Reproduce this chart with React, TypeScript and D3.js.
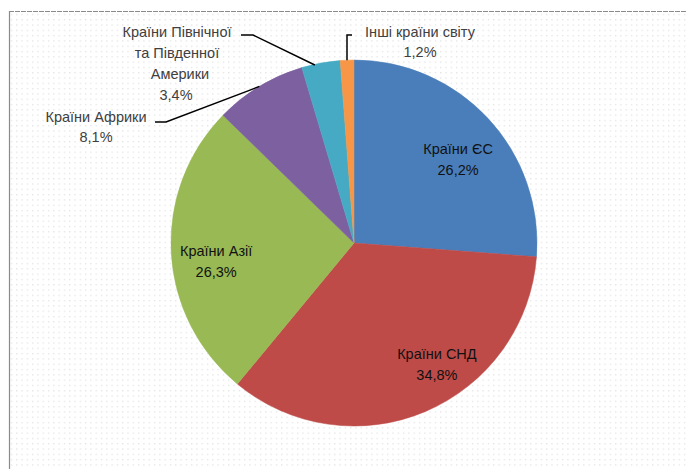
import React from 'react';
import * as d3 from 'd3';

// Export structure by region, %
const regions = [
  'Країни ЄС',
  'Країни СНД',
  'Країни Азії',
  'Країни Африки',
  'Країни Північної та Південної Америки',
  'Інші країни світу',
];
const shares = [26.2, 34.8, 26.3, 8.1, 3.4, 1.2];
const colors = ['#4a7ebb', '#be4b48', '#98b954', '#7d60a0', '#46aac5', '#f79646'];

const W = 687;
const H = 469;
const cx = 354;
const cy = 243;
const R = 183;

const fmt = (v: number) => v.toFixed(1).replace('.', ',') + '%';

// label placement: inside ones by polar offset, outside ones as lines of text
const inside: Record<number, { da: number; rf: number }> = {
  0: { da: 0.07, rf: 0.73 },
  1: { da: -0.2, rf: 0.8 },
  2: { da: -0.08, rf: 0.76 },
};

const App = () => {
  const pie = d3.pie<number>().sort(null).value((d) => d)(shares);
  const arc = d3.arc<d3.PieArcDatum<number>>().innerRadius(0).outerRadius(R);
  const edge = (d: d3.PieArcDatum<number>, f = 1) => {
    const a = (d.startAngle + d.endAngle) / 2;
    return [cx + Math.sin(a) * R * f, cy - Math.cos(a) * R * f];
  };

  const font = { fontFamily: 'Liberation Sans, Arial, sans-serif', fontSize: 14.5 };

  const pAfr = edge(pie[3], 1);
  const pAm = edge(pie[4], 1);
  const pOth = edge(pie[5], 1);

  return (
    <svg width={W} height={H} style={{ position: 'absolute', left: 0, top: 0 }}>
      <defs>
        <pattern id="dots" width={5.3} height={5.3} patternUnits="userSpaceOnUse" x={9} y={12}>
          <rect x={2} y={2} width={1} height={1} fill="#cfcfcf" />
        </pattern>
      </defs>
      <rect x={0} y={0} width={W} height={H} fill="#fff" />
      <rect x={9} y={11} width={W} height={H} fill="url(#dots)" />
      <line x1={9} y1={11.5} x2={W} y2={11.5} stroke="#8a8a8a" strokeWidth={1.2} strokeDasharray="5 1" />
      <line x1={9.5} y1={11} x2={9.5} y2={H} stroke="#8a8a8a" strokeWidth={1.2} />

      <g transform={`translate(${cx},${cy})`}>
        {pie.map((d, i) => (
          <path key={regions[i]} d={arc(d) || ''} fill={colors[i]} stroke={colors[i]} strokeWidth={0.5} />
        ))}
      </g>

      {pie.map((d, i) => {
        const o = inside[i];
        if (!o) return null;
        const a = (d.startAngle + d.endAngle) / 2 + o.da;
        const x = cx + Math.sin(a) * R * o.rf;
        const y = cy - Math.cos(a) * R * o.rf;
        return (
          <text key={'l' + i} x={x} y={y} textAnchor="middle" fill="#111" {...font}>
            <tspan x={x} dy={-5}>{regions[i]}</tspan>
            <tspan x={x} dy={21}>{fmt(shares[i])}</tspan>
          </text>
        );
      })}

      {/* leader lines */}
      <polyline points={`155,122 166,122 ${pAfr[0] - 10},${pAfr[1] + 4} ${pAfr[0]},${pAfr[1]}`} fill="none" stroke="#000" strokeWidth={1.5} />
      <polyline points={`241,35 253,35 ${pAm[0] - 6},${pAm[1] + 2}`} fill="none" stroke="#000" strokeWidth={1.5} />
      <polyline points={`352,35 347,35 347,${pOth[1]}`} fill="none" stroke="#000" strokeWidth={1.5} />

      <text textAnchor="middle" fill="#404040" {...font}>
        <tspan x={177} y={37}>Країни Північної</tspan>
        <tspan x={177} y={58}>та Південної</tspan>
        <tspan x={180} y={79}>Америки</tspan>
        <tspan x={176} y={100}>{fmt(shares[4])}</tspan>
      </text>
      <text textAnchor="middle" fill="#404040" {...font}>
        <tspan x={96} y={122}>Країни Африки</tspan>
        <tspan x={96} y={142}>{fmt(shares[3])}</tspan>
      </text>
      <text textAnchor="middle" fill="#404040" {...font}>
        <tspan x={420} y={37}>Інші країни світу</tspan>
        <tspan x={420} y={57}>{fmt(shares[5])}</tspan>
      </text>
    </svg>
  );
};

export default App;
